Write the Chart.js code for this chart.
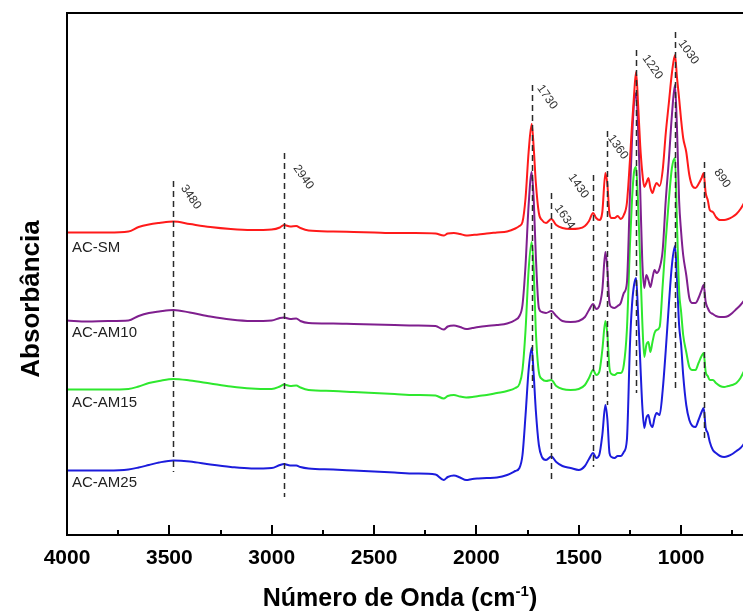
<!DOCTYPE html>
<html>
<head>
<meta charset="utf-8">
<title>FTIR</title>
<script src="https://cdn.jsdelivr.net/npm/chart.js@4.4.1/dist/chart.umd.min.js"></script>
<style>
    html, body { margin: 0; padding: 0; background: #fff; overflow: hidden; }
    #wrap { width: 752px; height: 612px; }
</style>
</head>
<body>
<div id="wrap"><canvas id="ftir" width="752" height="612"></canvas></div>
<script>
// --- Spectra -------------------------------------------------------------

// Wavenumbers (cm-1) shared by the four spectra, high to low
const wavenumbers = [
    4000, 3900, 3800, 3700, 3650, 3600, 3550, 3480, 3400, 3300, 3200, 3100,
    3000, 2960, 2940, 2910, 2880, 2860, 2820, 2700, 2600, 2500, 2400, 2300,
    2200, 2160, 2140, 2110, 2080, 2050, 2020, 1990, 1950, 1900, 1850, 1810,
    1790, 1775, 1760, 1745, 1730, 1720, 1710, 1695, 1680, 1660, 1634, 1610,
    1580, 1540, 1500, 1470, 1450, 1430, 1415, 1400, 1385, 1370, 1360, 1350,
    1340, 1325, 1310, 1295, 1280, 1265, 1250, 1240, 1230, 1220, 1210, 1200,
    1190, 1180, 1170, 1160, 1150, 1140, 1130, 1120, 1105, 1090, 1075, 1060,
    1045, 1030, 1020, 1010, 1000, 990, 975, 960, 945, 930, 915, 900,
    890, 880, 870, 860, 845, 830, 810, 790, 770, 750, 730, 710, 690,
];

// Absorbance (a.u.) of each sample, before stacking
const absSM = [
    0.005, 0.005, 0.005, 0.007, 0.016, 0.021, 0.024, 0.027, 0.022, 0.016, 0.012, 0.010,
    0.011, 0.015, 0.020, 0.017, 0.018, 0.014, 0.009, 0.007, 0.006, 0.005, 0.004, 0.004,
    0.003, -0.001, 0.003, 0.004, 0.002, -0.001, 0.000, 0.001, 0.003, 0.005, 0.007, 0.013,
    0.018, 0.026, 0.074, 0.166, 0.222, 0.174, 0.106, 0.044, 0.030, 0.024, 0.032, 0.020,
    0.014, 0.012, 0.013, 0.018, 0.028, 0.044, 0.034, 0.030, 0.046, 0.124, 0.100, 0.042,
    0.034, 0.034, 0.038, 0.032, 0.040, 0.064, 0.150, 0.220, 0.280, 0.326, 0.260, 0.180,
    0.126, 0.096, 0.104, 0.114, 0.094, 0.084, 0.096, 0.104, 0.098, 0.130, 0.204, 0.264,
    0.324, 0.360, 0.314, 0.274, 0.230, 0.194, 0.166, 0.120, 0.098, 0.094, 0.102, 0.114,
    0.124, 0.084, 0.070, 0.050, 0.046, 0.036, 0.030, 0.030, 0.032, 0.036, 0.042, 0.052, 0.066,
];
const absAM10 = [
    -0.001, -0.003, -0.002, -0.001, 0.008, 0.014, 0.017, 0.020, 0.015, 0.007, 0.001, -0.002,
    -0.001, 0.004, 0.005, 0.002, 0.003, -0.002, -0.006, -0.007, -0.008, -0.009, -0.010, -0.011,
    -0.012, -0.019, -0.013, -0.011, -0.014, -0.018, -0.016, -0.014, -0.012, -0.010, -0.007, 0.000,
    0.008, 0.030, 0.110, 0.230, 0.296, 0.240, 0.130, 0.024, 0.016, 0.014, 0.018, 0.008,
    -0.002, -0.004, -0.002, 0.006, 0.020, 0.032, 0.022, 0.028, 0.060, 0.136, 0.100, 0.034,
    0.026, 0.024, 0.028, 0.034, 0.054, 0.074, 0.250, 0.360, 0.434, 0.454, 0.380, 0.260,
    0.120, 0.064, 0.090, 0.080, 0.066, 0.084, 0.100, 0.094, 0.104, 0.140, 0.240, 0.320,
    0.410, 0.470, 0.380, 0.240, 0.176, 0.130, 0.090, 0.044, 0.034, 0.034, 0.044, 0.060,
    0.070, 0.036, 0.024, 0.016, 0.012, 0.008, 0.006, 0.006, 0.008, 0.014, 0.022, 0.030, 0.040,
];
const absAM15 = [
    0.001, 0.001, 0.001, 0.002, 0.007, 0.014, 0.018, 0.022, 0.019, 0.013, 0.007, 0.003,
    0.002, 0.007, 0.011, 0.008, 0.009, 0.005, 0.000, -0.002, -0.004, -0.006, -0.008, -0.010,
    -0.011, -0.017, -0.012, -0.010, -0.013, -0.015, -0.014, -0.012, -0.010, -0.006, -0.002, 0.004,
    0.012, 0.040, 0.120, 0.240, 0.296, 0.240, 0.120, 0.036, 0.022, 0.018, 0.020, 0.008,
    0.002, 0.000, 0.002, 0.010, 0.024, 0.040, 0.030, 0.036, 0.080, 0.138, 0.110, 0.044,
    0.032, 0.030, 0.034, 0.034, 0.050, 0.120, 0.290, 0.380, 0.436, 0.446, 0.370, 0.256,
    0.140, 0.066, 0.090, 0.096, 0.076, 0.096, 0.114, 0.120, 0.126, 0.210, 0.300, 0.380,
    0.444, 0.464, 0.330, 0.200, 0.156, 0.110, 0.076, 0.046, 0.040, 0.040, 0.054, 0.068,
    0.074, 0.036, 0.028, 0.020, 0.020, 0.014, 0.008, 0.006, 0.008, 0.010, 0.014, 0.024, 0.040,
];
const absAM25 = [
    -0.001, -0.001, -0.001, 0.001, 0.005, 0.010, 0.015, 0.019, 0.017, 0.011, 0.006, 0.003,
    0.004, 0.010, 0.012, 0.009, 0.009, 0.006, 0.003, 0.001, -0.001, -0.003, -0.005, -0.007,
    -0.009, -0.020, -0.014, -0.011, -0.015, -0.020, -0.018, -0.017, -0.016, -0.015, -0.010, -0.002,
    0.004, 0.030, 0.110, 0.200, 0.244, 0.190, 0.120, 0.050, 0.026, 0.020, 0.027, 0.016,
    0.008, 0.004, 0.000, 0.008, 0.022, 0.034, 0.024, 0.030, 0.070, 0.130, 0.100, 0.034,
    0.026, 0.024, 0.028, 0.028, 0.036, 0.060, 0.250, 0.330, 0.370, 0.384, 0.310, 0.220,
    0.130, 0.084, 0.104, 0.110, 0.092, 0.086, 0.104, 0.114, 0.110, 0.160, 0.240, 0.330,
    0.410, 0.448, 0.380, 0.290, 0.250, 0.190, 0.130, 0.100, 0.088, 0.086, 0.100, 0.116,
    0.124, 0.084, 0.074, 0.056, 0.040, 0.034, 0.028, 0.026, 0.028, 0.032, 0.038, 0.044, 0.054,
];

const sampleNames = ['AC-SM', 'AC-AM10', 'AC-AM15', 'AC-AM25'];
const sampleSpectra = [absSM, absAM10, absAM15, absAM25];
const stackOffsets = [0.60, 0.43, 0.29, 0.13];

// Marked bands (cm-1) and the vertical span of each guide line
const bandPositions = [3480, 2940, 1730, 1634, 1430, 1360, 1220, 1030, 890];
const bandTop = [0.708, 0.764, 0.900, 0.684, 0.720, 0.808, 0.970, 1.006, 0.746];
const bandBottom = [0.126, 0.076, 0.294, 0.110, 0.136, 0.260, 0.284, 0.294, 0.190];

const xTickValues = [4000, 3500, 3000, 2500, 2000, 1500, 1000];
const xMinorStep = 250;

// --- Styling -------------------------------------------------------------

const FONT = "'Liberation Sans', Arial, Helvetica, sans-serif";
const lineColors = ['#ff1a1a', '#7f1f8e', '#2ee82e', '#1c1cdc'];
// pixel nudges for the rotated band labels, from the top of each guide line
const bandLabelNudge = [[7, 2], [9, 10], [5, -2], [3, 10], [-25, -3], [0, 2], [6, 3], [3, 6], [10, 5]];

// --- Drawing -------------------------------------------------------------

const decorations = {
    id: 'decorations',
    afterDatasetsDraw(chart) {
        const { ctx, chartArea: area, scales: { x, y } } = chart;

        // dashed guide lines at the band positions
        ctx.save();
        ctx.strokeStyle = '#2a2a2a';
        ctx.lineWidth = 1.5;
        ctx.setLineDash([6, 4]);
        bandPositions.forEach((wn, i) => {
            const px = Math.round(x.getPixelForValue(wn)) + 0.5;
            ctx.beginPath();
            ctx.moveTo(px, y.getPixelForValue(bandTop[i]));
            ctx.lineTo(px, y.getPixelForValue(bandBottom[i]));
            ctx.stroke();
        });
        ctx.restore();

        // rotated band labels
        ctx.save();
        ctx.fillStyle = '#333';
        ctx.font = `12px ${FONT}`;
        ctx.textBaseline = 'alphabetic';
        ctx.textAlign = 'left';
        bandPositions.forEach((wn, i) => {
            const [dx, dy] = bandLabelNudge[i];
            ctx.save();
            ctx.translate(x.getPixelForValue(wn) + dx, y.getPixelForValue(bandTop[i]) + dy + 5);
            ctx.rotate(55 * Math.PI / 180);
            ctx.fillText(String(wn), 0, 0);
            ctx.restore();
        });
        ctx.restore();

        // sample names under the left end of each trace
        ctx.save();
        ctx.fillStyle = '#222';
        ctx.font = `15px ${FONT}`;
        ctx.textBaseline = 'middle';
        sampleNames.forEach((name, i) => {
            ctx.fillText(name, area.left + 5, y.getPixelForValue(stackOffsets[i]) + 13);
        });
        ctx.restore();
    },
    afterDraw(chart) {
        const { ctx, chartArea: area, scales: { x } } = chart;
        ctx.save();

        // plot frame
        ctx.strokeStyle = '#000';
        ctx.lineWidth = 2;
        ctx.strokeRect(area.left, area.top, area.right - area.left, area.bottom - area.top);

        // inward tick marks on the bottom axis
        for (let v = x.max - (x.max % xMinorStep); v >= x.min; v -= xMinorStep) {
            const px = Math.round(x.getPixelForValue(v));
            const len = v % 500 === 0 ? 10 : 5;
            ctx.beginPath();
            ctx.moveTo(px, area.bottom);
            ctx.lineTo(px, area.bottom - len);
            ctx.stroke();
        }

        // axis titles
        ctx.fillStyle = '#000';
        ctx.textBaseline = 'alphabetic';
        const base = 606;
        const main = 'Número de Onda (cm';
        ctx.font = `bold 25px ${FONT}`;
        const wMain = ctx.measureText(main).width;
        const wClose = ctx.measureText(')').width;
        ctx.font = `bold 15px ${FONT}`;
        const wSup = ctx.measureText('-1').width;
        let tx = 400 - (wMain + wSup + wClose) / 2;
        ctx.font = `bold 25px ${FONT}`;
        ctx.fillText(main, tx, base);
        tx += wMain;
        ctx.font = `bold 15px ${FONT}`;
        ctx.fillText('-1', tx, base - 10);
        tx += wSup;
        ctx.font = `bold 25px ${FONT}`;
        ctx.fillText(')', tx, base);

        ctx.translate(39, 299);
        ctx.rotate(-Math.PI / 2);
        ctx.textAlign = 'center';
        ctx.font = `bold 26px ${FONT}`;
        ctx.fillText('Absorbância', 0, 0);

        ctx.restore();
    },
};

new Chart(document.getElementById('ftir'), {
    type: 'line',
    data: {
        datasets: sampleSpectra.map((values, i) => ({
            label: sampleNames[i],
            data: wavenumbers.map((wn, j) => ({ x: wn, y: values[j] + stackOffsets[i] })),
            borderColor: lineColors[i],
            borderWidth: 2,
            pointRadius: 0,
            cubicInterpolationMode: 'monotone',
            fill: false,
        })),
    },
    options: {
        responsive: false,
        animation: false,
        devicePixelRatio: 1,
        layout: { padding: { left: 0, top: 13, right: 7, bottom: 0 } },
        plugins: {
            legend: { display: false },
            tooltip: { enabled: false },
        },
        scales: {
            x: {
                type: 'linear',
                reverse: true,
                min: 688,
                max: 4000,
                afterBuildTicks: (scale) => {
                    scale.ticks = xTickValues.map((v) => ({ value: v }));
                },
                afterFit: (scale) => { scale.height = 77; },
                grid: { display: false, drawTicks: false },
                border: { display: false },
                ticks: {
                    color: '#000',
                    font: { family: FONT, size: 21, weight: 'bold' },
                    padding: 11,
                    maxRotation: 0,
                    autoSkip: false,
                    callback: (value) => String(value),
                },
            },
            y: {
                min: 0,
                max: 1.044,
                afterFit: (scale) => { scale.width = 67; },
                grid: { display: false, drawTicks: false },
                border: { display: false },
                ticks: { display: false },
            },
        },
    },
    plugins: [decorations],
});
</script>
</body>
</html>
